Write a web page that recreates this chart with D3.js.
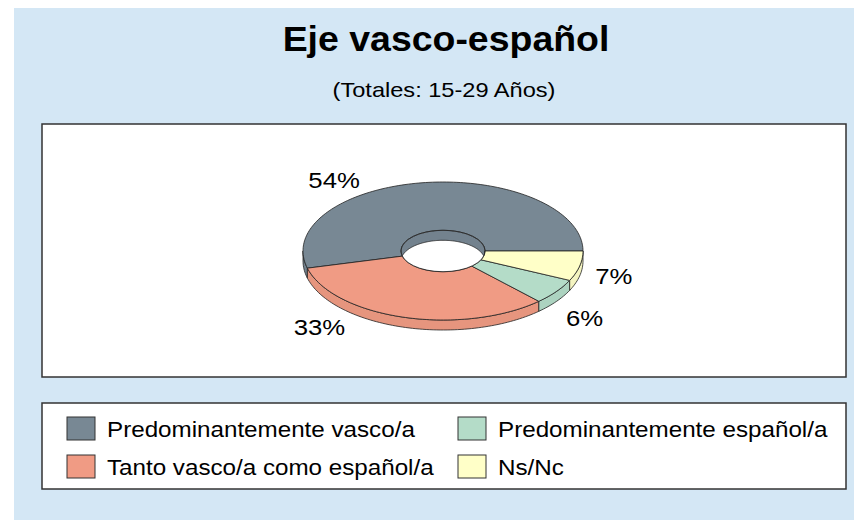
<!DOCTYPE html>
<html>
<head>
<meta charset="utf-8">
<script src="https://cdn.jsdelivr.net/npm/d3@7"></script>
<style>
  body { margin: 0; background: #fff; }
  text { font-family: "Liberation Sans", Arial, sans-serif; fill: #000; }
</style>
</head>
<body>
<svg id="chart" width="854" height="520"></svg>
<script>
// Data
const categories = ["Predominantemente vasco/a", "Tanto vasco/a como español/a", "Predominantemente español/a", "Ns/Nc"];
const values = [54, 33, 6, 7];
const colors = ["#788894", "#f09b84", "#b4dcc8", "#ffffc8"];
const labelText = values.map(v => v + "%");

const svg = d3.select("#chart");

// text in the original is a bit wider than Arial, so stretch it horizontally
function addText(parent, x, y, str, size, sx, anchor) {
    return parent.append("text")
        .attr("transform", `translate(${x},${y}) scale(${sx},1)`)
        .attr("text-anchor", anchor || "start")
        .attr("font-size", size)
        .text(str);
}

// Background panel
svg.append("rect")
    .attr("x", 14).attr("y", 8)
    .attr("width", 840).attr("height", 512)
    .attr("fill", "#d4e7f5");

// Title
addText(svg, 446, 51, "Eje vasco-español", 35, 1.07, "middle")
    .attr("font-weight", "bold");
addText(svg, 444, 97, "(Totales: 15-29 Años)", 20, 1.18, "middle");

// Plot and legend boxes
const boxes = [
    { x: 42, y: 124, w: 804, h: 253 },
    { x: 42, y: 403, w: 804, h: 86 }
];
boxes.forEach(b => {
    svg.append("rect")
        .attr("x", b.x).attr("y", b.y)
        .attr("width", b.w).attr("height", b.h)
        .attr("fill", "#fff")
        .attr("stroke", "#333")
        .attr("stroke-width", 1.5);
});

// 3D doughnut geometry
const pie3d = {
    cx: 443,
    cy: 251,
    rx: 140,
    ry: 69,
    inner: 0.3,
    depth: 10
};

const TAU = Math.PI * 2;
// d3 angle convention: 0 at 12 o'clock, clockwise. Start at 3 o'clock, go counter-clockwise.
const arcs = d3.pie().sort(null).startAngle(Math.PI / 2).endAngle(Math.PI / 2 - TAU)(values);

const pt = (a, k, dy = 0) => [
    pie3d.cx + pie3d.rx * k * Math.sin(a),
    pie3d.cy - pie3d.ry * k * Math.cos(a) + dy
];

function sample(a0, a1, k, dy = 0) {
    const n = Math.max(2, Math.ceil(Math.abs(a1 - a0) * 40));
    return d3.range(n + 1).map(i => pt(a0 + (a1 - a0) * i / n, k, dy));
}

function clipRange(lo, hi, L, H) {
    const out = [];
    for (let s = -1; s <= 2; s++) {
        const a = Math.max(lo + s * TAU, L);
        const b = Math.min(hi + s * TAU, H);
        if (a < b) out.push([a, b]);
    }
    return out;
}

const line = d3.line();
const g = svg.append("g");

// Outer walls (front half: 3 o'clock -> 9 o'clock through the bottom)
arcs.forEach((d, i) => {
    const lo = Math.min(d.startAngle, d.endAngle);
    const hi = Math.max(d.startAngle, d.endAngle);
    clipRange(lo, hi, Math.PI / 2, Math.PI * 1.5).forEach(([a, b]) => {
        const pts = sample(a, b, 1).concat(sample(b, a, 1, pie3d.depth));
        g.append("path")
            .attr("d", line(pts) + "Z")
            .attr("fill", d3.color(colors[i]).darker(0.12))
            .attr("stroke", "#222")
            .attr("stroke-width", 0.8)
            .attr("stroke-linejoin", "round");
    });
});

// Top faces
arcs.forEach((d, i) => {
    const pts = sample(d.startAngle, d.endAngle, 1).concat(sample(d.endAngle, d.startAngle, pie3d.inner));
    g.append("path")
        .attr("d", line(pts) + "Z")
        .attr("fill", colors[i])
        .attr("stroke", "#222")
        .attr("stroke-width", 0.8)
        .attr("stroke-linejoin", "round");
});

// Hole: white opening plus visible inner wall on the far side
const holeRx = pie3d.rx * pie3d.inner;
const holeRy = pie3d.ry * pie3d.inner;
svg.append("defs").append("clipPath").attr("id", "hole")
    .append("ellipse")
    .attr("cx", pie3d.cx).attr("cy", pie3d.cy)
    .attr("rx", holeRx).attr("ry", holeRy);

const hole = g.append("g").attr("clip-path", "url(#hole)");
hole.append("ellipse")
    .attr("cx", pie3d.cx).attr("cy", pie3d.cy)
    .attr("rx", holeRx).attr("ry", holeRy)
    .attr("fill", "#fff");

arcs.forEach((d, i) => {
    const lo = Math.min(d.startAngle, d.endAngle);
    const hi = Math.max(d.startAngle, d.endAngle);
    clipRange(lo, hi, Math.PI * 1.5, Math.PI * 2.5).forEach(([a, b]) => {
        const pts = sample(a, b, pie3d.inner).concat(sample(b, a, pie3d.inner, pie3d.depth));
        hole.append("path")
            .attr("d", line(pts) + "Z")
            .attr("fill", d3.color(colors[i]).darker(0.12))
            .attr("stroke", "#222")
            .attr("stroke-width", 0.8);
    });
});

g.append("ellipse")
    .attr("cx", pie3d.cx).attr("cy", pie3d.cy)
    .attr("rx", holeRx).attr("ry", holeRy)
    .attr("fill", "none")
    .attr("stroke", "#222")
    .attr("stroke-width", 0.8);

// Data labels (the original has a couple of them dragged away from the slice middle)
const labelShift = [
    { da: -37.8, k: 0.88 },
    { da: 30.5, k: 0.97 },
    { da: 0, k: 1 },
    { da: 0, k: 1 }
];
const labelRx = 175, labelRy = 114;
arcs.forEach((d, i) => {
    const a = (d.startAngle + d.endAngle) / 2 + labelShift[i].da * Math.PI / 180;
    const k = labelShift[i].k;
    addText(svg,
        pie3d.cx + labelRx * k * Math.sin(a),
        pie3d.cy - labelRy * k * Math.cos(a),
        labelText[i], 23, 1.12, "middle")
        .attr("dy", "0.35em");
});

// Legend
const legendCols = [67, 458];
const legendRows = [429, 467];
categories.forEach((c, i) => {
    const col = Math.floor(i / 2), row = i % 2;
    const lx = legendCols[col], ly = legendRows[row];
    svg.append("rect")
        .attr("x", lx).attr("y", ly - 12)
        .attr("width", 28).attr("height", 23)
        .attr("fill", colors[i])
        .attr("stroke", "#333")
        .attr("stroke-width", 1);
    addText(svg, lx + 40, ly, c, 22, 1.1)
        .attr("dy", "0.35em");
});
</script>
</body>
</html>
